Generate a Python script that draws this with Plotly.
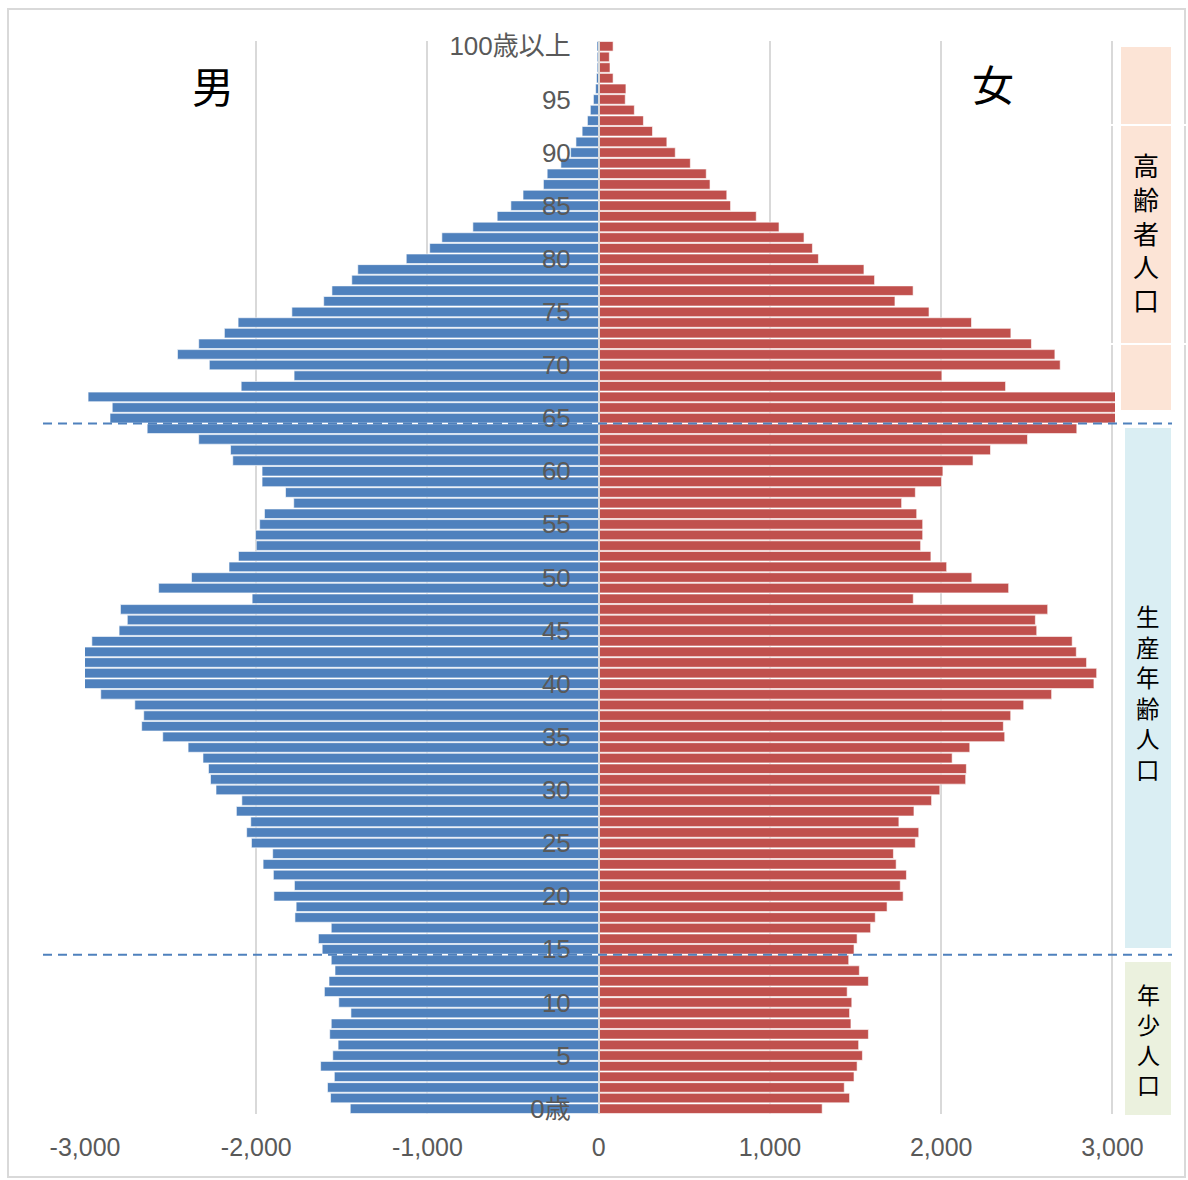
import plotly.graph_objects as go

# ---- data ----
ages = list(range(0, 101))
male = [1451, 1566, 1584, 1544, 1624, 1553, 1522, 1571, 1562, 1447,
        1518, 1602, 1575, 1540, 1562, 1615, 1637, 1562, 1774, 1767,
        1897, 1777, 1900, 1960, 1904, 2028, 2056, 2032, 2116, 2084,
        2235, 2267, 2279, 2311, 2398, 2546, 2669, 2657, 2709, 2908,
        3050, 3080, 3060, 3030, 2960, 2801, 2753, 2793, 2024, 2570,
        2378, 2159, 2104, 2000, 2004, 1980, 1952, 1781, 1829, 1966,
        1966, 2137, 2150, 2336, 2637, 2854, 2841, 2982, 2088, 1779,
        2274, 2460, 2336, 2186, 2106, 1792, 1606, 1558, 1442, 1407,
        1124, 987, 916, 735, 593, 513, 442, 323, 301, 221,
        164, 133, 97, 66, 49, 31, 18, 13, 9, 9,
        10]
female = [1305, 1465, 1434, 1491, 1509, 1540, 1518, 1575, 1473, 1465,
          1478, 1451, 1575, 1522, 1460, 1491, 1509, 1588, 1615, 1684,
          1778, 1761, 1797, 1737, 1721, 1849, 1869, 1753, 1841, 1944,
          1992, 2143, 2147, 2064, 2167, 2371, 2363, 2406, 2482, 2645,
          2892, 2908, 2849, 2789, 2765, 2558, 2550, 2622, 1837, 2394,
          2179, 2032, 1940, 1880, 1892, 1892, 1857, 1769, 1849, 2002,
          2010, 2186, 2288, 2504, 2792, 3100, 3120, 3150, 2376, 2004,
          2695, 2664, 2527, 2407, 2177, 1929, 1730, 1836, 1611, 1549,
          1283, 1248, 1199, 1053, 920, 770, 748, 650, 628, 535,
          447, 398, 314, 261, 208, 155, 159, 84, 66, 62,
          84]
y_tick_vals = list(range(0, 101, 5))
y_tick_text = ["0歳"] + [str(v) for v in range(5, 100, 5)] + ["100歳以上"]
x_tick_vals = [-3000, -2000, -1000, 0, 1000, 2000, 3000]
x_tick_text = ["-3,000", "-2,000", "-1,000", "0", "1,000", "2,000", "3,000"]
group_bounds = [64.5, 14.5]
groups = [("高齢者人口", "#FCE4D6"), ("生産年齢人口", "#DAEEF3"), ("年少人口", "#EBF1DE")]

# ---- layout geometry (pixels) ----
W, H = 1188, 1180
L, R, T, B = 85, 1115, 41, 1114

def px(xp):
    return (xp - L) / (R - L)

def py(yp):
    return (B - yp) / (B - T)

FONT = "Liberation Sans, Noto Sans CJK JP, sans-serif"
CJK = "Noto Sans CJK JP, sans-serif"

fig = go.Figure()
fig.add_trace(go.Bar(y=ages, x=[-v for v in male], orientation="h",
                     marker=dict(color="#4F81BD", line=dict(color="rgba(255,255,255,0.6)", width=1)),
                     name="男", hoverinfo="skip"))
fig.add_trace(go.Bar(y=ages, x=female, orientation="h",
                     marker=dict(color="#C0504D", line=dict(color="rgba(255,255,255,0.6)", width=1)),
                     name="女", hoverinfo="skip"))

shapes = []
# outer border
shapes.append(dict(type="rect", xref="paper", yref="paper",
                   x0=px(8), x1=px(1185), y0=py(1177), y1=py(9),
                   line=dict(color="#D9D9D9", width=2), fillcolor="rgba(0,0,0,0)", layer="below"))
# right-side group boxes
box_px = [(1121, 1171, 47, 410), (1125, 1171, 428, 948), (1125, 1171, 962, 1115)]
for (x0, x1, y0, y1), (_, col) in zip(box_px, groups):
    shapes.append(dict(type="rect", xref="paper", yref="paper",
                       x0=px(x0), x1=px(x1), y0=py(y1), y1=py(y0),
                       line=dict(width=0), fillcolor=col, layer="above"))
for yy in (125, 344):
    shapes.append(dict(type="line", xref="paper", yref="paper",
                       x0=px(1108), x1=px(1188), y0=py(yy), y1=py(yy),
                       line=dict(color="white", width=2), layer="above"))
# dashed group boundaries
for b in group_bounds:
    shapes.append(dict(type="line", xref="paper", yref="y",
                       x0=px(43), x1=px(1172), y0=b, y1=b,
                       line=dict(color="#4F81BD", width=2, dash="9px,6px"), layer="above"))

annotations = []
annotations.append(dict(text="男", xref="paper", yref="paper", x=px(213), y=py(84),
                        showarrow=False, font=dict(family=CJK, size=42, color="black"),
                        xanchor="center", yanchor="middle"))
annotations.append(dict(text="女", xref="paper", yref="paper", x=px(993), y=py(82),
                        showarrow=False, font=dict(family=CJK, size=42, color="black"),
                        xanchor="center", yanchor="middle"))
# vertical group labels: (centre x, centre y, font size)
label_pos = [(1146, 232, 26), (1148, 692, 23.5), (1148, 1039, 23)]
for (label, _), (cx, cy, fs) in zip(groups, label_pos):
    annotations.append(dict(text="<br>".join(label), xref="paper", yref="paper",
                            x=px(cx), y=py(cy), showarrow=False,
                            font=dict(family=CJK, size=fs, color="black"),
                            xanchor="center", yanchor="middle", align="center"))

fig.update_layout(
    width=W, height=H,
    margin=dict(l=L, r=W - R, t=T, b=H - B, autoexpand=False),
    barmode="overlay", bargap=0.1,
    plot_bgcolor="white", paper_bgcolor="white",
    showlegend=False,
    shapes=shapes, annotations=annotations,
    font=dict(family=FONT, color="#595959"),
    xaxis=dict(range=[-3000, 3015], tickvals=x_tick_vals, ticktext=x_tick_text,
               showgrid=True, gridcolor="#D9D9D9", gridwidth=2, zeroline=False,
               showline=False, ticks="", tickfont=dict(family=FONT, size=25, color="#595959"),
               ticklabelstandoff=16, fixedrange=True),
    yaxis=dict(range=[-0.5, 100.5], tickvals=y_tick_vals, ticktext=y_tick_text,
               anchor="free", position=px(599), showgrid=False, zeroline=False,
               showline=True, linecolor="#D9D9D9", linewidth=2, layer="above traces",
               ticks="", tickfont=dict(family=FONT, size=26, color="#595959"),
               ticklabelstandoff=22, fixedrange=True),
)

fig.write_html("out.html", config={"displayModeBar": False},
               post_script="document.body.style.margin='0';")
